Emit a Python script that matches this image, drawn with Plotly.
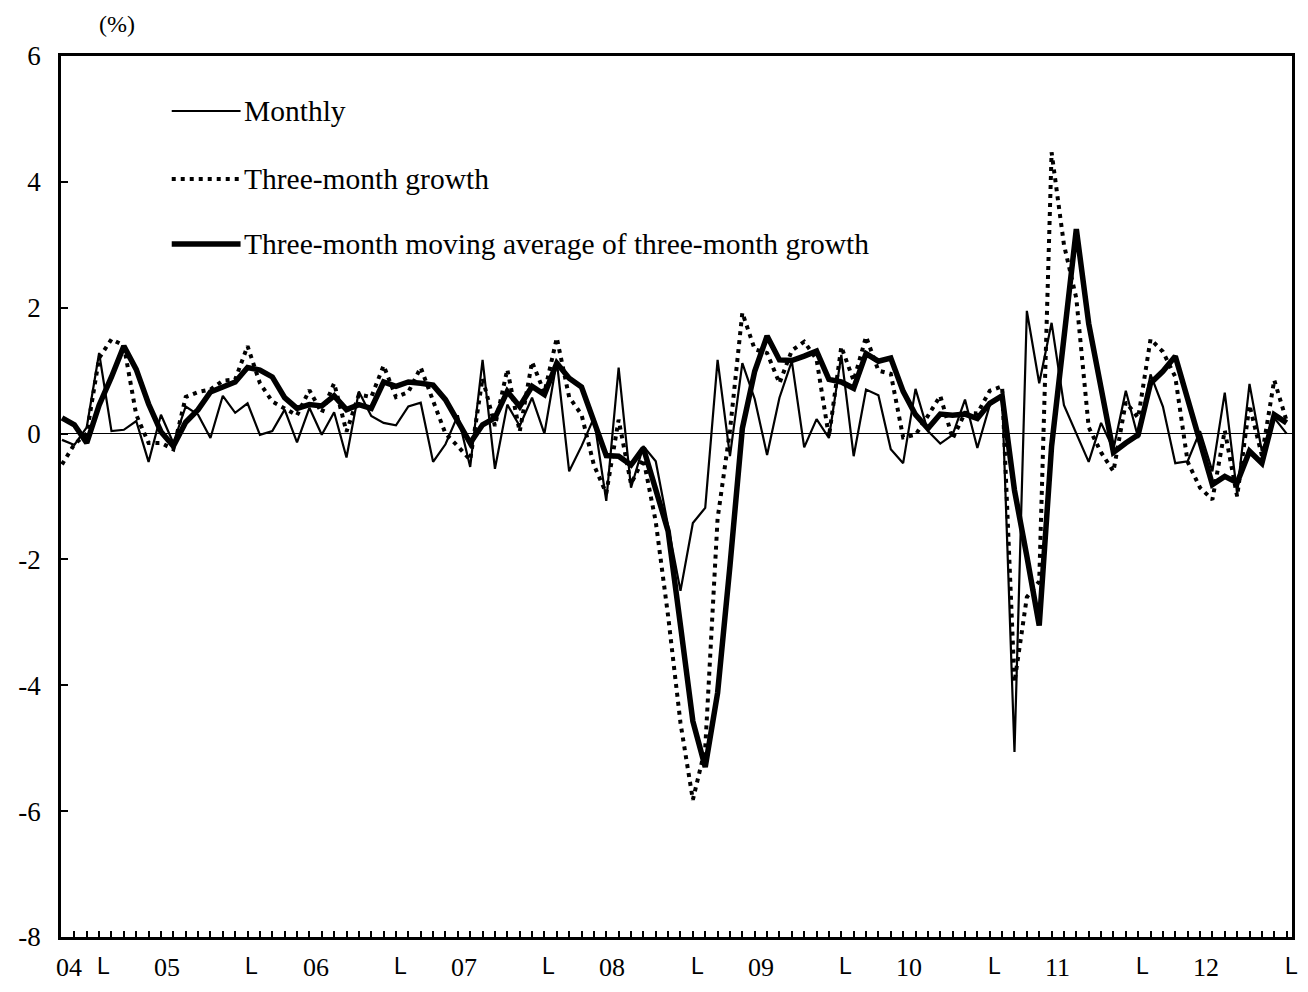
import plotly.graph_objects as go

# ---------------- data ----------------
monthly = [
    -0.10, -0.18, 0.10, 1.28, 0.04, 0.06, 0.20, -0.45, 0.30, -0.15,
    0.43, 0.30, -0.07, 0.60, 0.33, 0.48, -0.02, 0.04, 0.38, -0.14,
    0.41, -0.02, 0.34, -0.38, 0.67, 0.28, 0.17, 0.13, 0.43, 0.49,
    -0.45, -0.17, 0.29, -0.53, 1.17, -0.56, 0.46, 0.12, 0.57, 0.00,
    1.15, -0.60, -0.20, 0.25, -1.07, 1.05, -0.86, -0.20, -0.44, -1.50,
    -2.50, -1.42, -1.18, 1.17, -0.36, 1.12, 0.55, -0.34, 0.57, 1.15,
    -0.22, 0.23, -0.07, 1.25, -0.36, 0.70, 0.61, -0.25, -0.47, 0.71,
    0.04, -0.16, -0.02, 0.54, -0.23, 0.45, 0.60, -5.06, 1.95, 0.80,
    1.76, 0.45, 0.00, -0.45, 0.17, -0.25, 0.68, -0.07, 0.94, 0.43,
    -0.47, -0.44, 0.04, -0.60, 0.65, -0.95, 0.79, -0.28, 0.25, 0.00,
]

three_month_growth = [
    -0.49, -0.17, 0.00, 1.20, 1.50, 1.40, 0.30, -0.15, -0.15, -0.25,
    0.58, 0.66, 0.70, 0.84, 0.86, 1.39, 0.80, 0.51, 0.40, 0.29,
    0.69, 0.33, 0.80, 0.03, 0.62, 0.58, 1.08, 0.58, 0.66, 1.05,
    0.52, 0.00, -0.20, -0.42, 0.88, 0.12, 1.02, 0.03, 1.14, 0.65,
    1.52, 0.58, 0.30, -0.50, -0.95, 0.22, -0.80, -0.40, -1.40, -2.90,
    -4.60, -5.82, -5.00, -1.35, 0.05, 1.92, 1.34, 1.28, 0.80, 1.32,
    1.46, 1.18, -0.05, 1.38, 0.84, 1.54, 1.00, 0.95, -0.06, -0.02,
    0.28, 0.60, -0.08, 0.33, 0.32, 0.68, 0.75, -3.95, -2.60, -2.35,
    4.47, 3.00, 2.15, 0.10, -0.30, -0.60, 0.50, 0.25, 1.50, 1.30,
    0.90, -0.45, -0.86, -1.05, 0.05, -1.00, 0.45, -0.35, 0.85, 0.20,
]

moving_average = [
    0.25, 0.14, -0.15, 0.45, 0.90, 1.39, 1.02, 0.47, 0.03, -0.20,
    0.18, 0.38, 0.66, 0.75, 0.82, 1.05, 1.01, 0.90, 0.57, 0.40,
    0.46, 0.44, 0.60, 0.38, 0.46, 0.40, 0.82, 0.75, 0.82, 0.80,
    0.77, 0.54, 0.20, -0.15, 0.14, 0.25, 0.67, 0.43, 0.75, 0.62,
    1.12, 0.88, 0.74, 0.22, -0.35, -0.36, -0.50, -0.23, -0.86, -1.55,
    -3.05, -4.57, -5.30, -4.12, -2.10, 0.08, 0.99, 1.55, 1.17, 1.16,
    1.23, 1.31, 0.86, 0.82, 0.72, 1.27, 1.15, 1.20, 0.67, 0.30,
    0.08, 0.31, 0.29, 0.31, 0.24, 0.48, 0.60, -0.90, -1.95, -3.05,
    -0.20, 1.62, 3.25, 1.75, 0.70, -0.30, -0.15, -0.02, 0.80, 0.99,
    1.23, 0.55, -0.12, -0.81, -0.68, -0.78, -0.28, -0.47, 0.30, 0.17,
]

series_names = [
    "Monthly",
    "Three-month growth",
    "Three-month moving average of three-month growth",
]

year_labels = ["04", "05", "06", "07", "08", "09", "10", "11", "12"]
separator_label = "L"
y_tick_values = [-8, -6, -4, -2, 0, 2, 4, 6]
y_unit_label = "(%)"

# ---------------- figure ----------------
n = len(monthly)
x = list(range(n))

SERIF = "Liberation Serif, Times New Roman, serif"
SANS = "Liberation Sans, Arial, sans-serif"

styles = [
    dict(color="black", width=2.2),
    dict(color="black", width=4, dash="4px,5px"),
    dict(color="black", width=5.5),
]
data_series = [monthly, three_month_growth, moving_average]

fig = go.Figure()
for name, ys, st in zip(series_names, data_series, styles):
    fig.add_trace(go.Scatter(x=x, y=ys, mode="lines", name=name, line=st,
                             showlegend=False, hoverinfo="x+y"))

# The page body has an 8px margin: the figure starts at page pixel (8, 8).
OFF = 8
W, H = 1308 - 2 * OFF, 992 - 2 * OFF
# plot area in page pixels
L_PX, R_PX, T_PX, B_PX = 61, 1295, 56, 937
px_per_month = 12.4
x0 = -(62 - L_PX) / px_per_month
x_range = [x0, x0 + (R_PX - L_PX) / px_per_month]

fig.update_layout(
    width=W, height=H,
    margin=dict(l=L_PX - OFF, r=(OFF + W) - R_PX, t=T_PX - OFF, b=(OFF + H) - B_PX, pad=0),
    paper_bgcolor="white", plot_bgcolor="white",
    font=dict(family=SERIF, size=24, color="black"),
    showlegend=False,
)

fig.update_xaxes(
    range=x_range, showgrid=False, zeroline=False,
    showline=True, linecolor="black", linewidth=2.5, mirror=True,
    ticks="inside", ticklen=6, tickwidth=1.5, tickcolor="black",
    tickvals=x[1:], ticktext=["" for _ in x[1:]],
)
fig.update_yaxes(
    range=[-8, 6], showgrid=False,
    zeroline=True, zerolinecolor="black", zerolinewidth=1.2,
    showline=True, linecolor="black", linewidth=2.5, mirror=True,
    ticks="inside", ticklen=7, tickwidth=1.5, tickcolor="black",
    tickvals=y_tick_values, ticktext=[str(v) for v in y_tick_values],
    tickfont=dict(family=SERIF, size=27), ticklabelstandoff=12,
)


def px_to_paper_x(px):
    return (px - L_PX) / (R_PX - L_PX)


def px_to_paper_y(py):
    return (B_PX - py) / (B_PX - T_PX)


annotations = []
shapes = []

# unit label
annotations.append(dict(text=y_unit_label, xref="paper", yref="paper",
                        x=px_to_paper_x(117), y=px_to_paper_y(24),
                        xanchor="center", yanchor="middle", showarrow=False,
                        font=dict(family=SERIF, size=24)))

# x-axis labels: year labels at mid-year, "L" separators at year ends
year_pos = [0.6] + [8.5 + 12 * k for k in range(len(year_labels) - 1)]
for lab, xp in zip(year_labels, year_pos):
    annotations.append(dict(text=lab, xref="x", yref="paper", x=xp,
                            y=px_to_paper_y(983),
                            xanchor="center", yanchor="bottom", showarrow=False,
                            borderpad=0,
                            font=dict(family=SERIF, size=26)))
sep_pos = [3 + 12 * k - 0.25 for k in range(len(year_labels))]
for xp in sep_pos:
    annotations.append(dict(text=separator_label, xref="x", yref="paper", x=xp,
                            y=px_to_paper_y(966),
                            xanchor="left", yanchor="middle", showarrow=False,
                            borderpad=0,
                            font=dict(family=SANS, size=23)))

# manual legend inside the plot
legend_rows = [111, 179, 244]
for name, st, row in zip(series_names, styles, legend_rows):
    shapes.append(dict(type="line", xref="paper", yref="paper",
                       x0=px_to_paper_x(172), x1=px_to_paper_x(241),
                       y0=px_to_paper_y(row), y1=px_to_paper_y(row),
                       line=st))
    annotations.append(dict(text=name, xref="paper", yref="paper",
                            x=px_to_paper_x(242), y=px_to_paper_y(row),
                            xanchor="left", yanchor="middle", showarrow=False,
                            font=dict(family=SERIF, size=29.5)))

fig.update_layout(annotations=annotations, shapes=shapes)

fig.write_html("out.html")
